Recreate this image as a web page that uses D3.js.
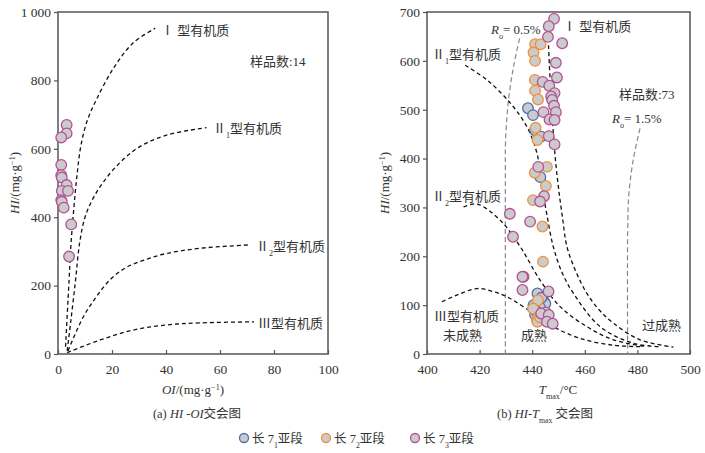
<!DOCTYPE html>
<html><head><meta charset="utf-8">
<script src="https://cdn.jsdelivr.net/npm/d3@7"></script>
<style>
body{margin:0;background:#fff;}
text{font-family:"Liberation Serif","Noto Sans CJK SC",serif;fill:#333;}
</style></head>
<body>
<svg id="c" width="705" height="453"></svg>
<script>
// ---------- DATA ----------
// Left panel (HI vs OI), 长7_3 samples
const leftPurple = [[3.2,670],[3.2,645],[1.2,633],[1.2,553],[1.2,523],[1.4,516],[3.2,494],[1.4,477],[3.7,477],[1.2,450],[1.4,445],[2.1,428],[4.9,379],[4.1,285]];
const leftTypeI  = [[2.8,21],[4.1,216],[4.8,320],[5.8,420],[7,520],[8.5,610],[10.9,684],[14.3,745],[20.5,835],[27.9,910],[36,952]];
const leftTypeII1= [[3.4,9],[4.8,100],[6.5,216],[8,324],[10,400],[13,455],[17,505],[23,560],[30,605],[40.2,640],[55,662]];
const leftTypeII2= [[3.7,9],[9.4,109],[14,165],[19,215],[25,252],[32,275],[40.2,294],[52.6,309],[71,319]];
const leftTypeIII= [[3.4,4],[15.6,41],[27.9,70],[40.2,85],[52.6,91],[72.6,94]];
const leftXTicks = [0,20,40,60,80,100];
const leftYTicks = [0,200,400,600,800,1000];

// Right panel (HI vs Tmax)
const rightBlue = [[438.4,503],[440.3,489],[441.1,458],[443.4,445],[443.1,362],[442,124],[444.5,107],[445,103],[440.5,100],[443,95],[441.1,80],[443.5,115],[441.5,88]];
const rightOrange = [[441.1,634],[443.2,634],[440.5,617],[441.1,600],[441,561],[441.1,539],[442.2,521],[441.3,463],[442,438],[445.6,383],[441,371],[445.2,344],[440.3,315],[443.9,261],[444.1,189],[442.2,110],[440.3,93],[441.8,70],[442,66],[443,75]];
const rightPurple = [[448.3,686],[446.3,671],[446,649],[451.4,636],[449,596],[449.4,566],[444,557],[446.5,549],[448.5,534],[447.2,527],[447.6,520],[448.3,508],[449,495],[444.3,495],[446.6,480],[448.5,479],[446.3,446],[448.5,429],[442.3,383],[444.5,323],[443,312],[431.5,287],[439.2,271],[432.7,240],[436.7,158],[436.3,158],[436.3,131],[446.2,128],[445.2,85],[443.4,83],[446.3,80],[445.6,66],[447.8,62]];
const rightTypeI  = [[446.2,632],[447,540],[447.8,470],[448.8,400],[450,340],[451.5,280],[453.2,220],[456.5,170],[460.8,124],[465.5,90],[470.9,63],[481,29],[493.7,14]];
const rightTypeII1= [[414.5,591],[422.8,561],[431.6,514],[438,465],[441.8,411],[443.7,342],[445.5,288],[448,220],[451.5,165],[455.7,124],[465.8,56],[478.5,22],[488.6,15]];
const rightTypeII2= [[413.9,301],[419,307],[427.8,274],[435.4,220],[443,151],[450.6,97],[460.8,56],[470.9,29],[483.5,15]];
const rightTypeIII= [[405.7,107],[412,122],[419,134],[425,128],[430.4,117],[440.5,83],[448,56],[458.2,32],[470.9,18],[481,15]];
const ro05 = [[435.2,646],[432.9,588],[431,520],[429.9,440],[429.8,350],[429.8,0]];
const ro15 = [[481,462],[478.5,400],[476.8,330],[476.3,250],[476.3,0]];
const rightXTicks = [400,420,440,460,480,500];
const rightYTicks = [0,100,200,300,400,500,600,700];

const seriesNames = ["长 7","长 7","长 7"];
const seriesSubs = ["1","2","3"];
const seriesColors = ["#4a6fb5","#f0913a","#b4509a"];

// ---------- DRAW ----------
const svg = d3.select("#c");
const fill = "#cbcbcb";

function panel(opts){
  const {x0,x1,y0,y1,xd,yd,xt,yt,ytf} = opts;
  const x = d3.scaleLinear().domain(xd).range([x0,x1]);
  const y = d3.scaleLinear().domain(yd).range([y1,y0]);
  const g = svg.append("g");
  const ya = g.append("g").attr("transform",`translate(${x0},0)`)
    .call(d3.axisLeft(y).tickValues(yt).tickSize(4).tickPadding(3).tickFormat(ytf||(d=>d)));
  const xa = g.append("g").attr("transform",`translate(0,${y1})`)
    .call(d3.axisBottom(x).tickValues(xt).tickSizeInner(-4).tickSizeOuter(0).tickPadding(10));
  [ya,xa].forEach(a=>{
    a.select(".domain").remove();
    a.selectAll("line").attr("stroke","#555").attr("stroke-width",1.2);
    a.selectAll("text").attr("font-size",13.5).attr("fill","#333").style("font-family","Liberation Serif");
  });
  g.append("rect").attr("x",x0).attr("y",y0).attr("width",x1-x0).attr("height",y1-y0)
    .attr("fill","none").attr("stroke","#555").attr("stroke-width",1.5);
  return {g,x,y};
}

function curve(p, data, color, dash, w){
  const line = d3.line().x(d=>p.x(d[0])).y(d=>p.y(d[1])).curve(d3.curveCatmullRom.alpha(0.5));
  p.g.append("path").attr("d",line(data)).attr("fill","none")
    .attr("stroke",color).attr("stroke-width",w||1.3).attr("stroke-dasharray",dash);
}
function dots(p, data, color){
  p.g.append("g").selectAll("circle").data(data).join("circle")
    .attr("cx",d=>p.x(d[0])).attr("cy",d=>p.y(d[1])).attr("r",5.3)
    .attr("fill",fill).attr("stroke",color).attr("stroke-width",1.3);
}
function label(x,y,parts,size,anchor){
  const t = svg.append("text").attr("x",x).attr("y",y).attr("font-size",size||13).attr("text-anchor",anchor||"start");
  parts.forEach(pt=>{
    const s = t.append("tspan").text(pt.t);
    if(pt.i) s.attr("font-style","italic");
    if(pt.sub){ s.attr("font-size",(size||13)*0.62).attr("baseline-shift","sub"); }
    if(pt.sup){ s.attr("font-size",(size||13)*0.62).attr("baseline-shift","super"); }
  });
  return t;
}

// Left panel
const L = panel({x0:58,x1:328,y0:12,y1:354,xd:[0,100],yd:[0,1000],xt:leftXTicks,yt:leftYTicks,
  ytf:d=>d===1000?"1 000":d});
curve(L,leftTypeI,"#111","4,3");
curve(L,leftTypeII1,"#111","4,3");
curve(L,leftTypeII2,"#111","4,3");
curve(L,leftTypeIII,"#111","4,3");
dots(L,leftPurple,seriesColors[2]);

// Right panel
const R = panel({x0:427,x1:690,y0:12,y1:354,xd:[400,500],yd:[0,700],xt:rightXTicks,yt:rightYTicks});
curve(R,ro05,"#888","5,3",1.2);
curve(R,ro15,"#888","5,3",1.2);
curve(R,rightTypeI,"#111","4,3");
curve(R,rightTypeII1,"#111","4,3");
curve(R,rightTypeII2,"#111","4,3");
curve(R,rightTypeIII,"#111","4,3");
dots(R,rightBlue,seriesColors[0]);
dots(R,rightOrange,seriesColors[1]);
dots(R,rightPurple,seriesColors[2]);

// Annotations left
label(161,35,[{t:"Ⅰ 型有机质"}]);
label(250,66,[{t:"样品数:14"}]);
label(213,133,[{t:"Ⅱ"},{t:"1",sub:1},{t:"型有机质"}]);
label(256,251,[{t:"Ⅱ"},{t:"2",sub:1},{t:"型有机质"}]);
label(258,328,[{t:"Ⅲ型有机质"}]);

// Annotations right
label(491,34,[{t:"R",i:1},{t:"o",sub:1},{t:"= 0.5%"}]);
label(563,31,[{t:"Ⅰ 型有机质"}]);
label(432,59,[{t:"Ⅱ"},{t:"1",sub:1},{t:"型有机质"}]);
label(619,99,[{t:"样品数:73"}]);
label(612,123,[{t:"R",i:1},{t:"o",sub:1},{t:"= 1.5%"}]);
label(432,201,[{t:"Ⅱ"},{t:"2",sub:1},{t:"型有机质"}]);
label(434,321,[{t:"Ⅲ型有机质"}]);
label(443,340,[{t:"未成熟"}]);
label(521,340,[{t:"成熟"}]);
label(642,330,[{t:"过成熟"}]);

// Axis titles
label(193,394,[{t:"OI",i:1},{t:"/(mg·g"},{t:"−1",sup:1},{t:")"}],13,"middle");
label(558,394,[{t:"T",i:1},{t:"max",sub:1},{t:"/°C"}],13,"middle");
label(0,0,[{t:"HI",i:1},{t:"/(mg·g"},{t:"−1",sup:1},{t:")"}],13,"middle")
  .attr("transform","translate(19,183) rotate(-90)");
label(0,0,[{t:"HI",i:1},{t:"/(mg·g"},{t:"−1",sup:1},{t:")"}],13,"middle")
  .attr("transform","translate(389,183) rotate(-90)");

// Captions
label(197,418,[{t:"(a) "},{t:"HI",i:1},{t:" -"},{t:"OI",i:1},{t:"交会图"}],12.5,"middle");
label(545,418,[{t:"(b) "},{t:"HI",i:1},{t:"-"},{t:"T",i:1},{t:"max",sub:1},{t:" 交会图"}],12.5,"middle");

// Legend
const legX = [244,326,415];
legX.forEach((lx,i)=>{
  svg.append("circle").attr("cx",lx).attr("cy",438).attr("r",4.5)
    .attr("fill",fill).attr("stroke",seriesColors[i]).attr("stroke-width",1.3);
  label(lx+8,443,[{t:seriesNames[i]},{t:seriesSubs[i],sub:1},{t:"亚段"}],12.5);
});
</script>
</body></html>
